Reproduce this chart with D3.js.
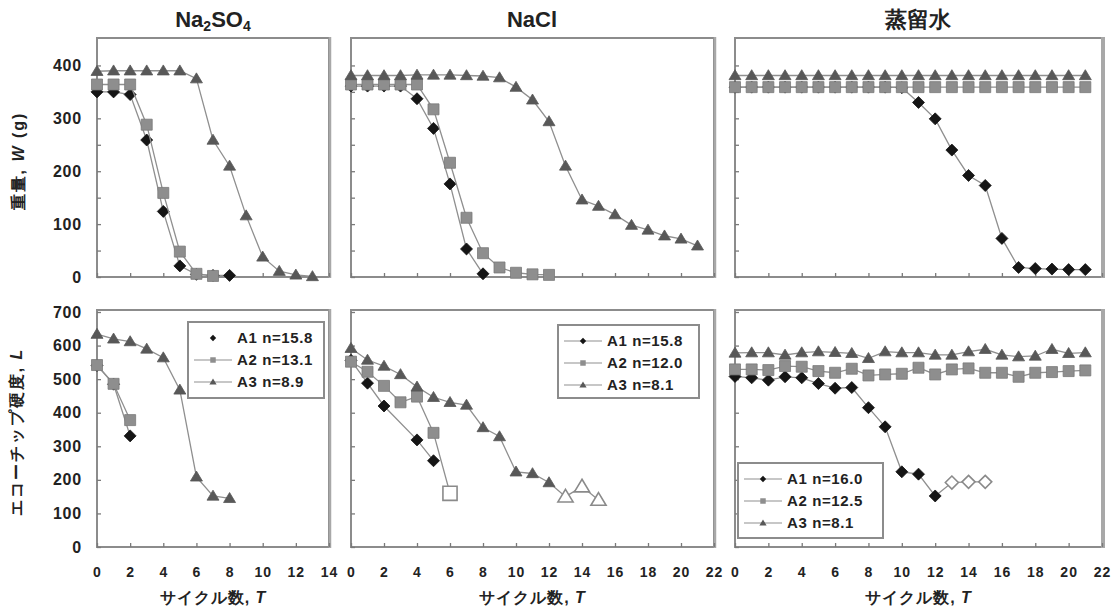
<!DOCTYPE html>
<html><head><meta charset="utf-8">
<script src="https://cdn.jsdelivr.net/npm/d3@7"></script>
<style>
body{margin:0;background:#fff}
svg{display:block}
text{font-family:"Liberation Sans",Arial,sans-serif;font-weight:bold;fill:#222}
</style>
</head><body>
<svg id="c" width="1114" height="609"></svg>
<script>
// ---------------- DATA ----------------
const panelTitles = ["Na2SO4", "NaCl", "蒸留水"];
const cycleMax = [14, 22, 22];
const cycleTicks14 = [0, 2, 4, 6, 8, 10, 12, 14];
const cycleTicks22 = [0, 2, 4, 6, 8, 10, 12, 14, 16, 18, 20, 22];
const weightTicks = [0, 50, 100, 150, 200, 250, 300, 350, 400];
const hardnessTicks = [0, 100, 200, 300, 400, 500, 600, 700];
const seriesNames = ["A1", "A2", "A3"];
const legendNa2SO4 = ["A1 n=15.8", "A2 n=13.1", "A3 n=8.9"];
const legendNaCl = ["A1 n=15.8", "A2 n=12.0", "A3 n=8.1"];
const legendWater = ["A1 n=16.0", "A2 n=12.5", "A3 n=8.1"];

// Weight W (g), index = cycle number T
const wNa2SO4_A1 = [350, 350, 345, 259, 124, 21, 5, 3, 3];
const wNa2SO4_A2 = [364, 364, 364, 288, 159, 48, 6, 2];
const wNa2SO4_A3 = [389, 390, 390, 390, 390, 390, 375, 259, 210, 116, 38, 11, 4, 1];
const wNaCl_A1 = [361, 361, 361, 361, 337, 281, 176, 53, 6];
const wNaCl_A2 = [364, 364, 364, 364, 364, 317, 216, 112, 45, 18, 8, 5, 4];
const wNaCl_A3 = [381, 381, 381, 381, 382, 382, 382, 381, 380, 377, 359, 335, 294, 210, 146, 134, 118, 98, 89, 78, 72, 59];
const wWater_A1 = [359, 359, 359, 359, 359, 359, 359, 359, 359, 359, 358, 330, 299, 240, 192, 173, 73, 18, 16, 15, 14, 14];
const wWater_A2 = [359, 359, 359, 359, 359, 359, 359, 359, 359, 359, 359, 359, 359, 359, 359, 359, 359, 359, 359, 359, 359, 359];
const wWater_A3 = [381, 381, 381, 381, 381, 381, 381, 381, 381, 381, 381, 381, 381, 381, 381, 381, 381, 381, 381, 381, 381, 381];

// Echo-tip hardness L, index = cycle number T (null = not measured)
const lNa2SO4_A1 = [541, 485, 331];
const lNa2SO4_A2 = [542, 486, 378];
const lNa2SO4_A3 = [634, 620, 612, 590, 564, 468, 209, 152, 145];
const lNaCl_A1 = [556, 488, 420, null, 319, 257];
const lNaCl_A2 = [552, 522, 480, 431, 448, 340, 160];
const lNaCl_A3 = [592, 557, 539, 514, 477, 446, 431, 423, 356, 329, 224, 219, 192, 150, 180, 140];
const lWater_A1 = [508, 504, 497, 507, 504, 487, 473, 475, 415, 358, 224, 217, 152, 192, 194, 194];
const lWater_A2 = [529, 529, 527, 539, 537, 524, 519, 531, 511, 514, 516, 534, 514, 529, 532, 519, 519, 507, 519, 521, 524, 526];
const lWater_A3 = [578, 579, 579, 572, 579, 582, 580, 577, 562, 582, 579, 579, 572, 572, 582, 589, 572, 567, 569, 589, 577, 579];
// cycles drawn with open (hollow) markers
const openNaCl_A2 = [6];
const openNaCl_A3 = [13, 14, 15];
const openWater_A1 = [13, 14, 15];

// ---------------- LAYOUT ----------------
const svg = d3.select("#c");
const CJK = '"Noto Sans CJK JP","Noto Sans CJK SC",sans-serif';
const colX = [[97, 329], [351, 714], [735, 1102]];
const rows = [
  {domain: [0, 450], range: [277, 39], frameTop: 38, ticks: weightTicks},
  {domain: [0, 700], range: [547, 312], frameTop: 310, ticks: hardnessTicks}
];
const legendBoxes = [
  {x: 188, y: 322, w: 136, h: 76},
  {x: 558, y: 325, w: 141, h: 73},
  {x: 738, y: 463, w: 145, h: 75}
];
const data = [
  [[wNa2SO4_A1, wNa2SO4_A2, wNa2SO4_A3], [wNaCl_A1, wNaCl_A2, wNaCl_A3], [wWater_A1, wWater_A2, wWater_A3]],
  [[lNa2SO4_A1, lNa2SO4_A2, lNa2SO4_A3], [lNaCl_A1, lNaCl_A2, lNaCl_A3], [lWater_A1, lWater_A2, lWater_A3]]
];
const openSets = [
  [[[], [], []], [[], [], []], [[], [], []]],
  [[[], [], []], [[], openNaCl_A2, openNaCl_A3], [openWater_A1, [], []]]
];
const legends = [legendNa2SO4, legendNaCl, legendWater];

// symbol shapes
const diamond = {draw(ctx, size) { const r = Math.sqrt(size) / 2; ctx.moveTo(0, -r); ctx.lineTo(r, 0); ctx.lineTo(0, r); ctx.lineTo(-r, 0); ctx.closePath(); }};
const square = {draw(ctx, size) { const r = Math.sqrt(size) / 2; ctx.rect(-r, -r, 2 * r, 2 * r); }};
const triangle = {draw(ctx, size) { const s = Math.sqrt(size); ctx.moveTo(0, -0.58 * s); ctx.lineTo(0.6 * s, 0.42 * s); ctx.lineTo(-0.6 * s, 0.42 * s); ctx.closePath(); }};
const styles = [
  {type: diamond, size: 144, openSize: 170, fill: "#151515", stroke: "#151515", legSize: 40},
  {type: square, size: 121, openSize: 200, fill: "#8e8e8e", stroke: "#7a7a7a", legSize: 30},
  {type: triangle, size: 100, openSize: 160, fill: "#585858", stroke: "#585858", legSize: 36}
];
const lineColor = "#8f8f8f";

rows.forEach((row, r) => {
  const y = d3.scaleLinear().domain(row.domain).range(row.range);
  colX.forEach((cx, c) => {
    const x = d3.scaleLinear().domain([0, cycleMax[c]]).range(cx);
    const g = svg.append("g");
    // frame
    g.append("rect").attr("x", cx[0]).attr("y", row.frameTop)
      .attr("width", cx[1] - cx[0]).attr("height", row.range[0] - row.frameTop)
      .attr("fill", "none").attr("stroke", "#8c8c8c").attr("stroke-width", 2);
    g.append("line").attr("x1", cx[1] + 1).attr("x2", cx[1] + 1)
      .attr("y1", row.frameTop - 1).attr("y2", row.range[0] + 1)
      .attr("stroke", "#a8a8a8").attr("stroke-width", c === 2 ? 4 : 2.5);
    // axes
    const ax = g.append("g").attr("transform", `translate(0,${row.range[0]})`)
      .call(d3.axisBottom(x).tickValues(c === 0 ? cycleTicks14 : cycleTicks22)
        .tickSizeInner(-4).tickSizeOuter(0).tickPadding(20)
        .tickFormat(r === 1 ? d3.format("d") : () => ""));
    ax.select(".domain").remove();
    ax.selectAll(".tick line").attr("stroke", "#7a7a7a").attr("stroke-width", 1.3);
    ax.selectAll(".tick text").attr("font-size", 14).attr("fill", "#333")
      .attr("font-family", '"Liberation Sans",Arial,sans-serif').attr("font-weight", "bold")
      .attr("letter-spacing", 1);
    const ay = g.append("g").attr("transform", `translate(${cx[0]},0)`)
      .call(d3.axisLeft(y).tickValues(row.ticks).tickSizeInner(-4).tickSizeOuter(0).tickPadding(15)
        .tickFormat(d => (c === 0 && d % 100 === 0) ? d : ""));
    ay.select(".domain").remove();
    ay.selectAll(".tick line").attr("stroke", "#7a7a7a").attr("stroke-width", 1.3);
    ay.selectAll(".tick text").attr("font-size", 16).attr("fill", "#333")
      .attr("font-family", '"Liberation Sans",Arial,sans-serif').attr("font-weight", "bold")
      .attr("letter-spacing", 0.8);

    // series
    data[r][c].forEach((vals, s) => {
      const pts = vals.map((v, t) => ({t, v})).filter(p => p.v !== null);
      const st = styles[s];
      const open = openSets[r][c][s];
      g.append("path").datum(pts)
        .attr("d", d3.line().x(p => x(p.t)).y(p => y(p.v)))
        .attr("fill", "none").attr("stroke", lineColor).attr("stroke-width", 1.3);
      g.selectAll(null).data(pts).join("path")
        .attr("transform", p => `translate(${x(p.t)},${y(p.v)})`)
        .attr("d", p => d3.symbol(st.type, open.includes(p.t) ? st.openSize : st.size)())
        .attr("fill", p => open.includes(p.t) ? "#fff" : st.fill)
        .attr("stroke", p => open.includes(p.t) ? "#8a8a8a" : st.stroke)
        .attr("stroke-width", p => open.includes(p.t) ? 1.6 : 0.8);
    });

    // legend (bottom row)
    if (r === 1) {
      const b = legendBoxes[c];
      const lg = g.append("g");
      lg.append("rect").attr("x", b.x).attr("y", b.y).attr("width", b.w).attr("height", b.h)
        .attr("fill", "#fff").attr("stroke", "#8c8c8c").attr("stroke-width", 2);
      legends[c].forEach((label, i) => {
        const ly = b.y + 16 + i * 22;
        if (!(c === 0 && i === 0)) {
          lg.append("line").attr("x1", b.x + 6).attr("x2", b.x + 44).attr("y1", ly).attr("y2", ly)
            .attr("stroke", lineColor).attr("stroke-width", 1.2);
        }
        lg.append("path").attr("transform", `translate(${b.x + 25},${ly})`)
          .attr("d", d3.symbol(styles[i].type, styles[i].legSize)())
          .attr("fill", styles[i].fill);
        lg.append("text").attr("x", b.x + 49).attr("y", ly).attr("dy", "0.36em")
          .attr("font-size", 15).attr("letter-spacing", 0.6).text(label);
      });
    }
  });
});

// panel titles
const tcx = [213, 532, 918];
const t0 = svg.append("text").attr("x", tcx[0]).attr("y", 27).attr("text-anchor", "middle").attr("font-size", 22);
t0.append("tspan").text("Na");
t0.append("tspan").attr("font-size", 14).attr("dy", 4).text("2");
t0.append("tspan").attr("dy", -4).text("SO");
t0.append("tspan").attr("font-size", 14).attr("dy", 4).text("4");
svg.append("text").attr("x", tcx[1]).attr("y", 27).attr("text-anchor", "middle").attr("font-size", 22).text(panelTitles[1]);
svg.append("text").attr("x", tcx[2]).attr("y", 27).attr("text-anchor", "middle").attr("font-size", 22)
  .attr("font-family", CJK).attr("fill", "#222").text(panelTitles[2]);

// x-axis titles
colX.forEach((cx) => {
  const t = svg.append("text").attr("x", (cx[0] + cx[1]) / 2).attr("y", 603).attr("text-anchor", "middle")
    .attr("font-size", 16).attr("font-family", CJK).attr("fill", "#222").attr("letter-spacing", 1);
  t.append("tspan").text("サイクル数, ");
  t.append("tspan").attr("font-style", "italic").attr("font-family", '"Liberation Sans",Arial,sans-serif').text("T");
});

// y-axis titles
const yt1 = svg.append("text").attr("transform", "translate(24,161) rotate(-90)").attr("text-anchor", "middle")
  .attr("font-size", 16).attr("font-family", CJK).attr("fill", "#222").attr("letter-spacing", 2);
yt1.append("tspan").text("重量, ");
yt1.append("tspan").attr("font-style", "italic").attr("font-family", '"Liberation Sans",Arial,sans-serif').text("W");
yt1.append("tspan").text(" (g)");
const yt2 = svg.append("text").attr("transform", "translate(22,432) rotate(-90)").attr("text-anchor", "middle")
  .attr("font-size", 16).attr("font-family", CJK).attr("fill", "#222").attr("letter-spacing", 2);
yt2.append("tspan").text("エコーチップ硬度, ");
yt2.append("tspan").attr("font-style", "italic").attr("font-family", '"Liberation Sans",Arial,sans-serif').text("L");
</script>
</body></html>
